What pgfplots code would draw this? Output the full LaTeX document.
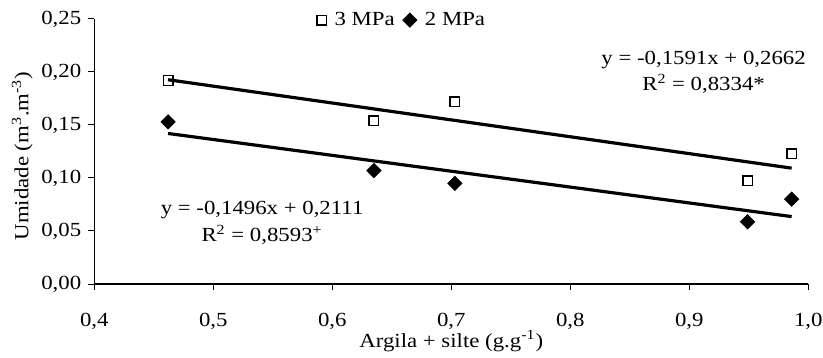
\documentclass[border=0pt]{standalone}
\usepackage{fontspec}
\setmainfont{Liberation Serif}[FakeStretch=1.14]
\usepackage{pgfplots}
\pgfplotsset{compat=1.18}
\begin{document}
\begin{tikzpicture}
\begin{axis}[
  at={(0,0)}, anchor=south west,
  scale only axis, width=357pt, height=132.5pt,
  xmin=0.4, xmax=1.0, ymin=0, ymax=0.25,
  axis x line*=bottom, axis y line*=left,
  xtick={0.4,0.5,0.6,0.7,0.8,0.9,1.0},
  ytick={0,0.05,0.1,0.15,0.2,0.25},
  tick align=outside, major tick length=3pt,
  tick style={black, line width=0.5pt},
  axis line style={black, line width=0.6pt},
  /pgf/number format/assume math mode=true,
  xticklabel style={font=\fontsize{10}{12}\selectfont, yshift=-8pt, /pgf/number format/.cd, fixed, fixed zerofill, precision=1, use comma},
  yticklabel style={font=\fontsize{10}{12}\selectfont, /pgf/number format/.cd, fixed, fixed zerofill, precision=2, use comma},
  xlabel={Argila + silte (g.g\textsuperscript{-1})},
  ylabel={Umidade (m\textsuperscript{3}.m\textsuperscript{-3})},
  xlabel style={at={(axis description cs:0.5,0)}, anchor=base, yshift=-31.5pt},
  ylabel style={at={(axis description cs:-0.1008,0.483)}, anchor=center},
  legend style={at={(axis description cs:0.431,0.996)}, anchor=center, draw=none, fill=none,
    inner sep=0pt, legend columns=2,
    /tikz/every even column/.append style={column sep=3pt},
    /tikz/every odd column/.append style={column sep=3pt},
    nodes={inner sep=1pt}},
  legend cell align=left,
  clip=false,
]
\addplot[only marks, mark=square, mark size=2.4pt, mark options={line width=0.7pt, fill=white, draw=black}]
  coordinates {(0.462,0.192) (0.635,0.154) (0.703,0.172) (0.949,0.0975) (0.986,0.123)};
\addlegendentry{3 MPa}
\addplot[only marks, mark=square*, mark size=2.5pt, mark options={rotate=45, fill=black, draw=black}]
  coordinates {(0.462,0.153) (0.635,0.107) (0.703,0.095) (0.949,0.0587) (0.986,0.080)};
\addlegendentry{2 MPa}
\addplot[black, line width=1.6pt, forget plot] coordinates {(0.462,0.1927) (0.986,0.1093)};
\addplot[black, line width=1.6pt, forget plot] coordinates {(0.462,0.1420) (0.986,0.0636)};
\node[align=center, inner sep=0pt, font=\fontsize{10}{13}\selectfont] at (axis cs:0.912,0.1998)
  {y = -0,1591x + 0,2662\\R\textsuperscript{2} = 0,8334*};
\node[align=center, inner sep=0pt, font=\fontsize{10}{13.5}\selectfont] at (axis cs:0.541,0.0575)
  {y = -0,1496x + 0,2111\\R\textsuperscript{2} = 0,8593\textsuperscript{+}};
\end{axis}
\pgfresetboundingbox
\path[use as bounding box] (-47.15pt,-37pt) rectangle (364.35pt,142pt);
\end{tikzpicture}
\end{document}
